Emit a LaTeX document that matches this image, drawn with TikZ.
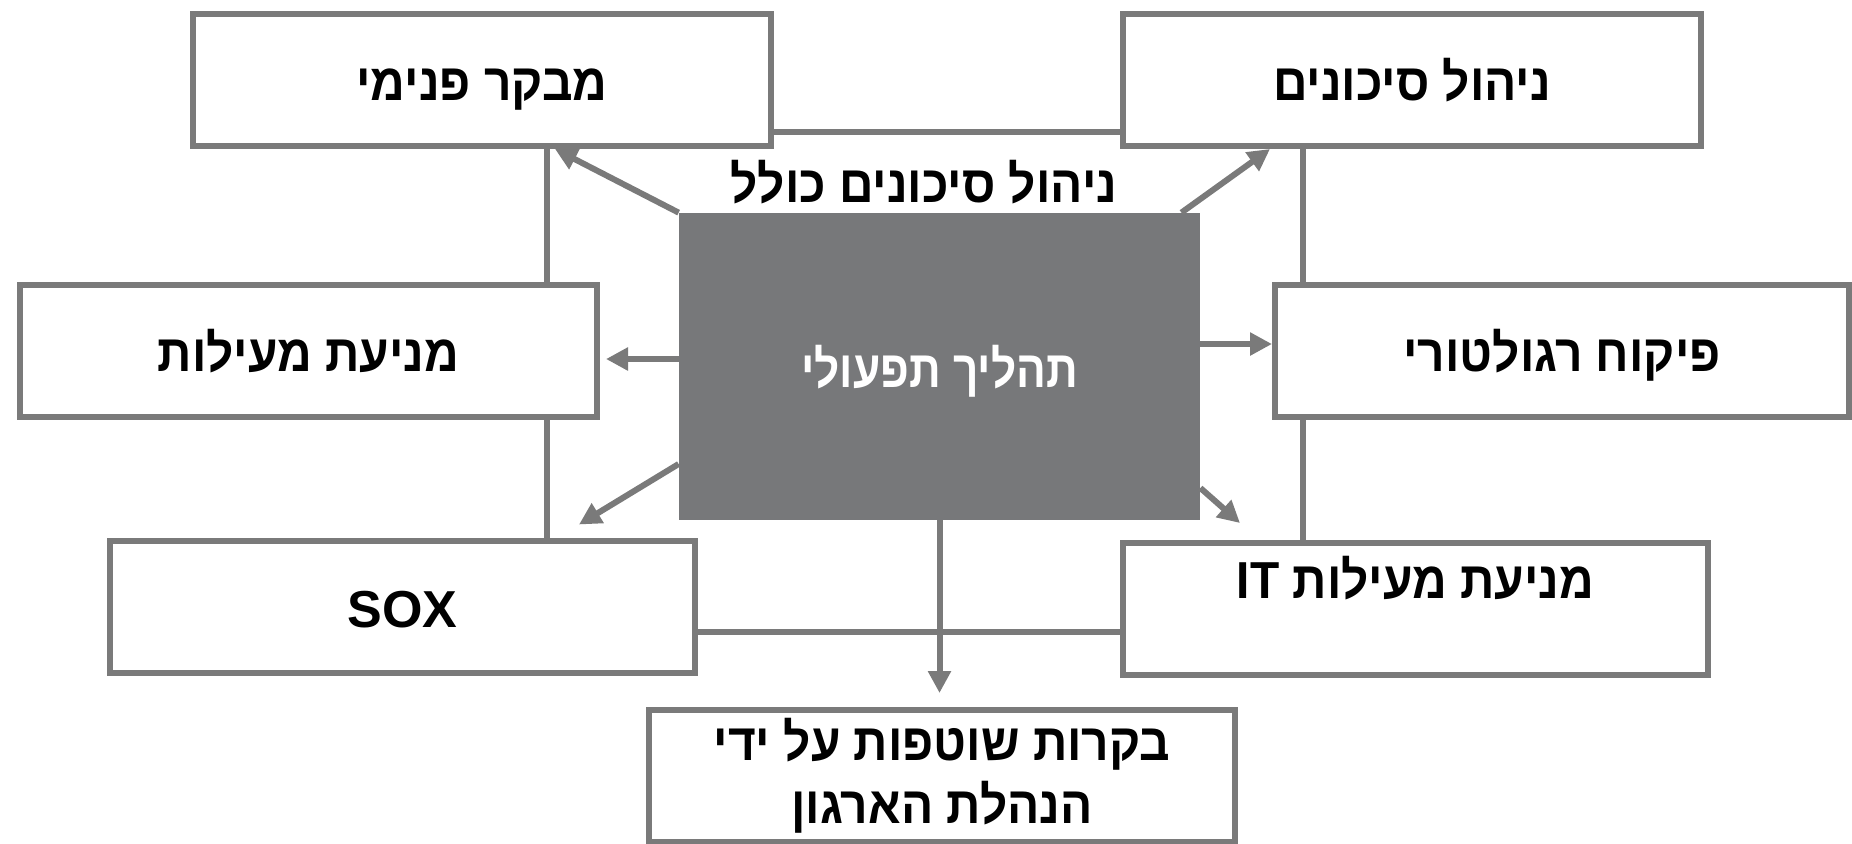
\documentclass[tikz,border=0pt]{standalone}
\usepackage{fontspec}
\setmainfont{Liberation Sans}
\newfontfamily\hebfont[Script=Hebrew,FakeStretch=0.92]{Liberation Sans}
\newfontfamily\procfont[Script=Hebrew,FakeStretch=0.85]{Liberation Sans}
\TeXXeTstate=1
\usetikzlibrary{arrows.meta}
\definecolor{framegray}{HTML}{7A7A7A}
\definecolor{procgray}{HTML}{77787A}
\begin{document}
\begin{tikzpicture}[x=0.5pt,y=-0.5pt,
	box/.style={draw=framegray,line width=3pt,fill=white,minimum width=#1,minimum height=66pt,
		inner sep=0pt,align=center,font=\fontsize{26}{31.5}\selectfont\hebfont\bfseries},
	oneline/.style={text height=26pt,text depth=5.3pt},
	link/.style={draw=framegray,line width=3pt},
	arr/.style={link,-{Triangle[length=11pt,width=11pt]}}]
	\useasboundingbox (0,0) rectangle (1852,843);

	\node[box=289pt,oneline] (audit) at (482,80) {\beginR מבקר פנימי\endR};
	\node[box=289pt,oneline] (risk) at (1412,80) {\beginR ניהול סיכונים\endR};
	\node[box=288.5pt,oneline] (fraud) at (308.5,351) {\beginR מניעת מעילות\endR};
	\node[box=287pt,oneline] (reg) at (1562,351) {\beginR פיקוח רגולטורי\endR};
	\node[box=292.5pt,oneline,font=\fontsize{26}{31.5}\selectfont\bfseries] (sox) at (402.5,606.5) {SOX};
	\node[box=292.5pt] (itfraud) at (1415.5,609) {\beginR מניעת מעילות \beginL IT\endL\endR\\ \mbox{}};
	\node[box=293pt] (mgmt) at (942,776) {\beginR בקרות שוטפות על ידי\endR\\\beginR הנהלת הארגון\endR};

	\node[fill=procgray,minimum width=260.5pt,minimum height=153.5pt,inner sep=0pt,oneline,
		text=white,font=\fontsize{26}{31.5}\selectfont\procfont\bfseries] (proc) at (939.5,366.5)
		{\beginR תהליך תפעולי\endR};
	\node[oneline,font=\fontsize{26}{31.5}\selectfont\hebfont\bfseries] (title) at (924,182)
		{\beginR ניהול סיכונים כולל\endR};

	\coordinate (lx) at (547,0);
	\coordinate (rx) at (1303,0);
	\coordinate (by) at (0,632);

	\draw[link] ([yshift=-26pt]audit.east) -- ([yshift=-26pt]risk.west);
	\draw[link] (audit.south -| lx) -- (fraud.north -| lx);
	\draw[link] (fraud.south -| lx) -- (sox.north -| lx);
	\draw[link] (risk.south -| rx) -- (reg.north -| rx);
	\draw[link] (reg.south -| rx) -- (itfraud.north -| rx);
	\draw[link] (sox.east |- by) -- (itfraud.west |- by);

	\draw[arr] (proc.north west) -- ([xshift=4pt]audit.south -| lx);
	\draw[arr] ([xshift=-9.5pt]proc.north east) -- ([xshift=-16.5pt]risk.south -| rx);
	\draw[arr,shorten >=3pt] ([yshift=3.75pt]proc.west) -- ([yshift=3.75pt]proc.west -| fraud.east);
	\draw[arr] ([yshift=11.25pt]proc.east) -- ([yshift=11.25pt]proc.east -| reg.west);
	\draw[arr] ([yshift=-48.75pt]proc.west) -- ([xshift=16pt,yshift=6.5pt]sox.north -| lx);
	\draw[arr] ([yshift=-60.75pt]proc.east) -- ([xshift=60pt,yshift=8.5pt]itfraud.north west);
	\draw[arr,shorten >=7pt] (proc.south) -- (proc.south |- mgmt.north);
\end{tikzpicture}
\end{document}
